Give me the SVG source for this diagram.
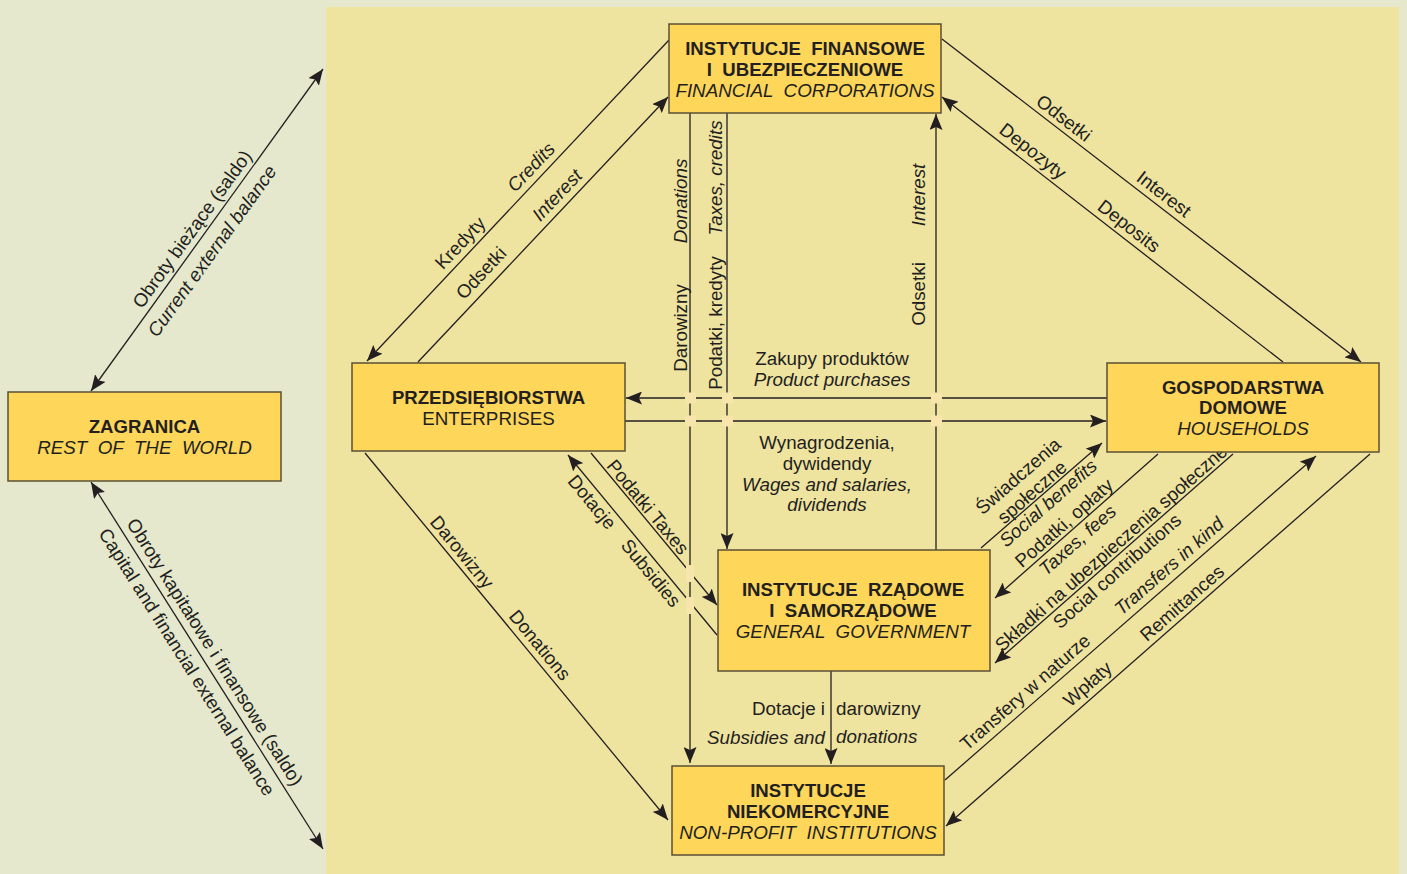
<svg xmlns="http://www.w3.org/2000/svg" width="1407" height="874" viewBox="0 0 1407 874">
<style>
text{font-family:"Liberation Sans",Arial,sans-serif;fill:#231f20;text-anchor:middle;dominant-baseline:central;font-size:18.8px}
.b{font-weight:bold;font-size:18.6px}
.i{font-style:italic}
.bx{fill:#fdd65a;stroke:#5a5035;stroke-width:1.5}
.ln{stroke:#231f20;stroke-width:1.3;fill:none;marker-end:url(#ah)}
.dbl{marker-start:url(#ah)}
.patch{fill:#f7e5ab}
</style>
<defs>
<marker id="ah" markerUnits="userSpaceOnUse" markerWidth="16" markerHeight="13" refX="16" refY="6.5" orient="auto-start-reverse" viewBox="0 0 16 13">
<path d="M0,0 L16,6.5 L0,13 L3,6.5 Z" fill="#231f20"/>
</marker>
</defs>
<rect width="1407" height="874" fill="#e5e8cc"/>
<rect x="326" y="7" width="1073" height="867" fill="#efe3a0"/>

<g id="connectors">
<line class="ln dbl" x1="91" y1="391" x2="323" y2="69"/>
<line class="ln dbl" x1="91" y1="482" x2="323" y2="849"/>
<line class="ln" x1="669" y1="40" x2="367" y2="361"/>
<line class="ln" x1="418" y1="362" x2="668" y2="97"/>
<line class="ln" x1="690" y1="113" x2="690" y2="763"/>
<line class="ln" x1="727" y1="113" x2="727" y2="549"/>
<line class="ln" x1="936" y1="550" x2="936" y2="114"/>
<line class="ln" x1="942" y1="39" x2="1361" y2="362"/>
<line class="ln" x1="1283" y1="362" x2="942" y2="97"/>
<line class="ln" x1="1107" y1="398" x2="626" y2="398"/>
<line class="ln" x1="625" y1="421" x2="1106" y2="421"/>
<line class="ln" x1="591" y1="453" x2="717" y2="605"/>
<line class="ln" x1="717" y1="635" x2="568" y2="455"/>
<line class="ln" x1="365" y1="453" x2="668" y2="820"/>
<line class="ln" x1="831" y1="671" x2="831" y2="764"/>
<line class="ln" x1="981" y1="548" x2="1102" y2="443"/>
<line class="ln" x1="1158" y1="454" x2="995" y2="598"/>
<line class="ln" x1="1233" y1="454" x2="995" y2="663"/>
<line class="ln" x1="945" y1="780" x2="1316" y2="456"/>
<line class="ln" x1="1370" y1="454" x2="946" y2="826"/>
<g id="crossings">
<rect class="patch" x="685" y="392.5" width="11" height="11"/>
<rect class="patch" x="722" y="392.5" width="11" height="11"/>
<rect class="patch" x="931" y="392.5" width="11" height="11"/>
<rect class="patch" x="685" y="415.5" width="11" height="11"/>
<rect class="patch" x="722" y="415.5" width="11" height="11"/>
<rect class="patch" x="931" y="415.5" width="11" height="11"/>
<rect class="patch" x="686" y="565" width="8" height="17"/>
<rect class="patch" x="686" y="597" width="8" height="17"/>
</g>
<g id="labels">
<text transform="translate(192,229) rotate(-54.2)">Obroty bieżące (saldo)</text>
<text class="i" transform="translate(212,251) rotate(-54.2)">Current external balance</text>
<text transform="translate(215,652) rotate(57.7)">Obroty kapitałowe i finansowe (saldo)</text>
<text transform="translate(187,662) rotate(57.7)">Capital and financial external balance</text>
<text transform="translate(460,243) rotate(-46.7)">Kredyty</text>
<text class="i" transform="translate(531,167) rotate(-46.7)">Credits</text>
<text transform="translate(481,273) rotate(-46.7)">Odsetki</text>
<text class="i" transform="translate(557,195) rotate(-46.7)">Interest</text>
<text class="i" transform="translate(680,201) rotate(-90)">Donations</text>
<text transform="translate(680,328) rotate(-90)">Darowizny</text>
<text class="i" transform="translate(715.5,178) rotate(-90)">Taxes, credits</text>
<text transform="translate(715.5,323) rotate(-90)">Podatki, kredyty</text>
<text class="i" transform="translate(918.5,195) rotate(-90)">Interest</text>
<text transform="translate(918.5,294) rotate(-90)">Odsetki</text>
<text transform="translate(1064,118) rotate(37.7)">Odsetki</text>
<text transform="translate(1164,194) rotate(37.7)">Interest</text>
<text transform="translate(1033,151) rotate(37.9)">Depozyty</text>
<text transform="translate(1129,226) rotate(37.9)">Deposits</text>
<text x="832" y="358">Zakupy produktów</text>
<text class="i" x="832" y="379">Product purchases</text>
<text x="827" y="442">Wynagrodzenia,</text>
<text x="827" y="463">dywidendy</text>
<text class="i" x="827" y="484">Wages and salaries,</text>
<text class="i" x="827" y="504">dividends</text>
<text transform="translate(648,507) rotate(50.3)">Podatki Taxes</text>
<text transform="translate(592,502) rotate(50.4)">Dotacje</text>
<text transform="translate(651,573) rotate(50.4)">Subsidies</text>
<text transform="translate(462,552) rotate(50.5)">Darowizny</text>
<text transform="translate(540,645) rotate(50.5)">Donations</text>
<text x="825" y="708" style="text-anchor:end">Dotacje i</text>
<text x="836" y="708" style="text-anchor:start">darowizny</text>
<text class="i" x="825" y="737" style="text-anchor:end">Subsidies and</text>
<text class="i" x="836" y="736" style="text-anchor:start">donations</text>
<text transform="translate(1018,476) rotate(-41)">Świadczenia</text>
<text transform="translate(1032,492) rotate(-41)">społeczne</text>
<text class="i" transform="translate(1048,503) rotate(-41)">Social benefits</text>
<text transform="translate(1064,523) rotate(-41.4)">Podatki, opłaty</text>
<text class="i" transform="translate(1077.5,540) rotate(-41.4)">Taxes, fees</text>
<text transform="translate(1111,548) rotate(-41.3)">Składki na ubezpieczenia społeczne</text>
<text transform="translate(1117,571) rotate(-41.3)">Social contributions</text>
<text transform="translate(1025,692) rotate(-41.1)">Transfery w naturze</text>
<text class="i" transform="translate(1169,566) rotate(-41.1)">Transfers in kind</text>
<text transform="translate(1087.5,684) rotate(-41.3)">Wpłaty</text>
<text transform="translate(1182,603) rotate(-41.3)">Remittances</text>
</g>
</g>

<g id="zagranica">
<rect class="bx" x="8" y="392" width="273" height="89"/>
<text class="b" x="144.5" y="426">ZAGRANICA</text>
<text class="i" x="144.5" y="447" xml:space="preserve">REST  OF  THE  WORLD</text>
</g>
<g id="financial">
<rect class="bx" x="669" y="24" width="272" height="89"/>
<text class="b" x="805" y="48" xml:space="preserve">INSTYTUCJE  FINANSOWE</text>
<text class="b" x="805" y="69" xml:space="preserve">I  UBEZPIECZENIOWE</text>
<text class="i" x="805" y="90" xml:space="preserve">FINANCIAL  CORPORATIONS</text>
</g>
<g id="enterprises">
<rect class="bx" x="352" y="363" width="273" height="88"/>
<text class="b" x="488.5" y="397">PRZEDSIĘBIORSTWA</text>
<text x="488.5" y="418">ENTERPRISES</text>
</g>
<g id="households">
<rect class="bx" x="1107" y="363" width="272" height="89"/>
<text class="b" x="1243" y="387">GOSPODARSTWA</text>
<text class="b" x="1243" y="407">DOMOWE</text>
<text class="i" x="1243" y="428">HOUSEHOLDS</text>
</g>
<g id="government">
<rect class="bx" x="718" y="550" width="272" height="121"/>
<text class="b" x="853" y="589" xml:space="preserve">INSTYTUCJE  RZĄDOWE</text>
<text class="b" x="853" y="610" xml:space="preserve">I  SAMORZĄDOWE</text>
<text class="i" x="853" y="631" xml:space="preserve">GENERAL  GOVERNMENT</text>
</g>
<g id="nonprofit">
<rect class="bx" x="672" y="766" width="272" height="89"/>
<text class="b" x="808" y="790">INSTYTUCJE</text>
<text class="b" x="808" y="811">NIEKOMERCYJNE</text>
<text class="i" x="808" y="832" xml:space="preserve">NON-PROFIT  INSTITUTIONS</text>
</g>
</svg>
